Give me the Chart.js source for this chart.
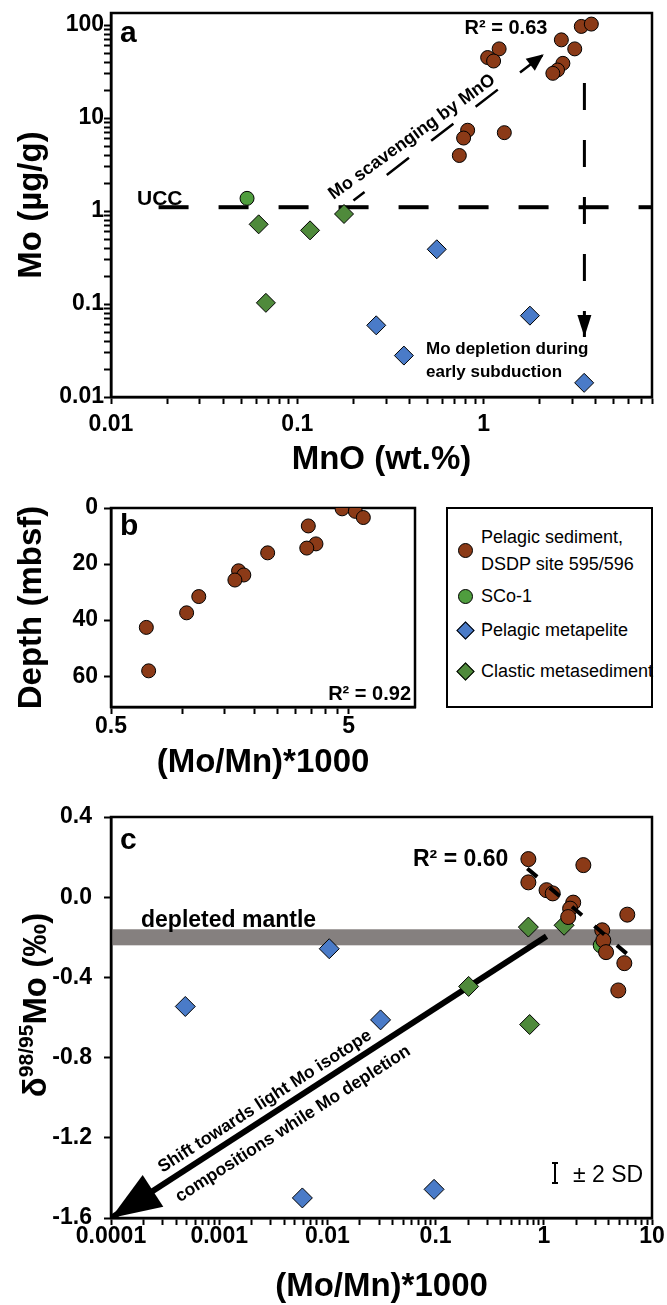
<!DOCTYPE html>
<html>
<head>
<meta charset="utf-8">
<title>Mo, MnO and Mo isotopes</title>
<script src="https://cdn.jsdelivr.net/npm/chart.js@4.4.1/dist/chart.umd.min.js"></script>
<style>
  html,body{margin:0;padding:0;background:#fff;}
  body{position:relative;width:667px;height:1305px;overflow:hidden;font-family:"Liberation Sans",Arial,sans-serif;}
  canvas{position:absolute;left:0;}
  #legend{position:absolute;left:446px;top:507px;width:207px;height:201px;border:2px solid #000;box-sizing:border-box;}
  .lg{position:absolute;left:33px;font-size:18px;line-height:27px;white-space:nowrap;color:#000;}
  .mk{position:absolute;box-sizing:border-box;border:1px solid #000;}
  .dot{width:15px;height:15px;border-radius:50%;}
  .dia{width:13px;height:13px;transform:rotate(45deg);}
</style>
</head>
<body>
<canvas id="chartA" width="667" height="490" style="top:0"></canvas>
<canvas id="chartB" width="430" height="310" style="top:480px"></canvas>
<canvas id="chartC" width="667" height="515" style="top:790px"></canvas>
<div id="legend"></div>
<script>
// ---- panel a : MnO (wt.%) vs Mo (µg/g)
const pelagicMnO = [3.34, 3.78, 2.61, 3.08, 2.66, 2.49, 2.35, 1.21, 1.05, 1.13, 0.82, 0.78, 0.74, 1.29];
const pelagicMo  = [96.8, 102.6, 69.4, 55.5, 38.8, 32.9, 30.3, 55.5, 44.8, 41.1, 7.4, 6.1, 3.96, 6.97];
const scoMnO = [0.0537];
const scoMo  = [1.37];
const metapeliteMnO = [0.56, 0.265, 0.373, 1.77, 3.46];
const metapeliteMo  = [0.388, 0.059, 0.0279, 0.075, 0.0142];
const clasticMnO = [0.062, 0.117, 0.178, 0.0678];
const clasticMo  = [0.72, 0.62, 0.93, 0.103];
const uccMnO = [0.018, 8], uccMo = [1.1, 1.1];
const depletionMnO = [3.47, 3.47], depletionMo = [23.8, 0.0442];
const scavengeMnO = [0.2, 2.1], scavengeMo = [1.3, 48.5];

// ---- panel b : (Mo/Mn)*1000 vs depth
const pelagicRatioB = [4.69, 5.33, 5.76, 3.38, 3.64, 3.33, 2.28, 1.72, 1.81, 1.66, 1.17, 1.04, 0.704, 0.72];
const pelagicDepth  = [0.3, 1.2, 3.4, 6.4, 12.8, 14.3, 16.0, 22.4, 23.9, 25.7, 31.6, 37.4, 42.6, 58.1];

// ---- panel c : (Mo/Mn)*1000 vs d98/95Mo
const pelagicRatioC = [0.72, 0.72, 1.06, 1.21, 2.32, 1.87, 1.75, 1.68, 5.91, 3.47, 3.55, 3.76, 5.55, 4.88];
const pelagicDelta  = [0.19, 0.074, 0.035, 0.019, 0.16, -0.027, -0.057, -0.099, -0.087, -0.165, -0.215, -0.274, -0.329, -0.465];
const scoRatioC = [3.36];
const scoDelta  = [-0.24];
const metapeliteRatioC = [0.0104, 0.000486, 0.031, 0.00587, 0.0968];
const metapeliteDelta  = [-0.257, -0.545, -0.612, -1.50, -1.457];
const clasticRatioC = [0.72, 1.54, 0.202, 0.74];
const clasticDelta  = [-0.149, -0.14, -0.445, -0.635];
const mantleBand = [-0.24, -0.16];
const trendRatio = [0.704, 5.83], trendDelta = [0.1435, -0.2815];
const shiftRatio = [1.06, 0.0001], shiftDelta = [-0.195, -1.6];

// ---- ticks
const depthTicks = [0, 20, 40, 60];
const deltaTicks = [-1.6, -1.2, -0.8, -0.4, 0, 0.4];
const ratioBTicks = [0.5, 1, 1.5, 2, 2.5, 3, 3.5, 4, 4.5, 5];
const ratioBLabels = [0.5, 5];

const brown = '#8b3a17', green = '#4f8a3b', greenDot = '#4f9d3e', blue = '#4a7bc8';
const FONT = '"Liberation Sans", Arial, sans-serif';
Chart.defaults.font.family = FONT;
Chart.defaults.color = '#000';

function pts(xs, ys){ return xs.map((x,i)=>({x, y:ys[i]})); }
function logTicks(min, max){
  const out=[];
  for(let e=Math.floor(Math.log10(min)); e<=Math.ceil(Math.log10(max)); e++){
    for(let k=1;k<10;k++){
      const v=+(k*Math.pow(10,e)).toPrecision(12);
      if(v>=min*0.999999 && v<=max*1.000001) out.push(v);
    }
  }
  return out;
}
function powLabel(v){
  const l=Math.log10(v);
  if(Math.abs(l-Math.round(l))>1e-6) return '';
  const e=Math.round(l);
  return e<0 ? v.toFixed(-e) : String(Math.round(v));
}
function markers(data, style, color, r){
  return {data, pointStyle:style, pointRadius:r, pointHoverRadius:r, backgroundColor:color, borderColor:'#000',
    pointBackgroundColor:color, pointBorderColor:'#000', pointBorderWidth:1, showLine:false, order:1};
}
function guide(data, width, dash, arrow, order, dashOffset){
  return {data, showLine:true, pointRadius:0, borderColor:'#000', borderWidth:width, borderDash:dash||[],
    borderDashOffset:dashOffset||0, borderCapStyle:'butt', fill:false, arrow, order:order==null?2:order};
}
function axis(o){
  return {
    type:o.type, position:o.pos, min:o.min, max:o.max, reverse:!!o.reverse,
    border:{display:true,color:'#000',width:2.5},
    grid:{display:true,drawOnChartArea:false,drawTicks:true,tickLength:7,tickWidth:2,tickColor:'#000',color:'#000'},
    ticks:{autoSkip:false,maxRotation:0,minRotation:0,padding:o.pad,color:'#000',
      font:{size:23,weight:'bold',lineHeight:1},callback:o.label},
    title:{display:true,text:o.title,color:'#000',font:{size:33,weight:'bold',lineHeight:1},
      padding:o.pos==='left'?{top:15.5,bottom:0}:{top:0,bottom:o.tpad}, display:!!o.title},
    afterBuildTicks(s){ s.ticks=o.ticks.map(v=>({value:v})); },
    afterFit(s){
      if(o.pos==='left') s.width=111; else s.height=o.h;
      s.paddingLeft=0; s.paddingRight=0; s.paddingTop=0; s.paddingBottom=0;
    }
  };
}

const framePlugin = {id:'frame', beforeDatasetsDraw(chart){
  const {ctx, chartArea:a}=chart;
  ctx.save(); ctx.strokeStyle='#000'; ctx.lineWidth=2.5;
  ctx.strokeRect(a.left,a.top,a.right-a.left,a.bottom-a.top); ctx.restore();
}};
const bandPlugin = {id:'band', beforeDatasetsDraw(chart,args,o){
  if(!o.range) return;
  const {ctx, chartArea:a}=chart, y=chart.scales.y;
  const t=y.getPixelForValue(o.range[1]), b=y.getPixelForValue(o.range[0]);
  ctx.save(); ctx.fillStyle=o.color; ctx.fillRect(a.left,t,a.right-a.left,b-t); ctx.restore();
}};
const arrowPlugin = {id:'arrows', afterDatasetsDraw(chart){
  const ctx=chart.ctx;
  chart.data.datasets.forEach((ds,i)=>{
    if(!ds.arrow) return;
    const el=chart.getDatasetMeta(i).data, p=el[el.length-2], q=el[el.length-1];
    const ang=Math.atan2(q.y-p.y,q.x-p.x), c=Math.cos(ang), s=Math.sin(ang);
    const {len,half}=ds.arrow;
    ctx.save(); ctx.fillStyle='#000'; ctx.beginPath();
    ctx.moveTo(q.x,q.y);
    ctx.lineTo(q.x-len*c+half*s, q.y-len*s-half*c);
    ctx.lineTo(q.x-len*c-half*s, q.y-len*s+half*c);
    ctx.closePath(); ctx.fill(); ctx.restore();
  });
}};
const notesPlugin = {id:'notes', afterDatasetsDraw(chart,args,o){
  const ctx=chart.ctx;
  (o.items||[]).forEach(n=>{
    ctx.save(); ctx.fillStyle='#000'; ctx.font=n.f+' '+FONT;
    ctx.textAlign=n.align||'left'; ctx.textBaseline=n.base||'alphabetic';
    ctx.translate(n.x,n.y); if(n.rot) ctx.rotate(n.rot*Math.PI/180);
    ctx.fillText(n.t,0,0); ctx.restore();
  });
  (o.bars||[]).forEach(b=>{
    ctx.save(); ctx.strokeStyle='#000'; ctx.lineWidth=2; ctx.beginPath();
    ctx.moveTo(b.x,b.y0); ctx.lineTo(b.x,b.y1);
    ctx.moveTo(b.x-3,b.y0); ctx.lineTo(b.x+3,b.y0);
    ctx.moveTo(b.x-3,b.y1); ctx.lineTo(b.x+3,b.y1);
    ctx.stroke(); ctx.restore();
  });
}};
const richTitlePlugin = {id:'richTitle', afterDraw(chart,args,o){
  if(!o.parts) return;
  const ctx=chart.ctx; ctx.save(); ctx.fillStyle='#000';
  ctx.translate(o.x,o.y); ctx.rotate(-Math.PI/2);
  ctx.textAlign='left'; ctx.textBaseline='alphabetic';
  let w=0; o.parts.forEach(p=>{ctx.font=p.f+' '+FONT; w+=ctx.measureText(p.t).width;});
  let x=-w/2;
  o.parts.forEach(p=>{ctx.font=p.f+' '+FONT; ctx.fillText(p.t,x,o.base+p.dy); x+=ctx.measureText(p.t).width;});
  ctx.restore();
}};
const PLUGINS=[bandPlugin, framePlugin, arrowPlugin, notesPlugin, richTitlePlugin];
function baseOptions(padding, scales, plugins){
  return {responsive:false, animation:false, events:[], layout:{padding}, scales,
    plugins:Object.assign({legend:{display:false}, tooltip:{enabled:false}}, plugins)};
}

// ---- chart a
new Chart(document.getElementById('chartA'), {
  type:'scatter',
  data:{datasets:[
    markers(pts(pelagicMnO,pelagicMo),'circle',brown,7),
    markers(pts(scoMnO,scoMo),'circle',greenDot,7),
    markers(pts(metapeliteMnO,metapeliteMo),'rectRot',blue,9.5),
    markers(pts(clasticMnO,clasticMo),'rectRot',green,9.5),
    guide(pts(uccMnO,uccMo),4,[30,30]),
    guide(pts(depletionMnO,depletionMo),3,[27,30],{len:22,half:7}),
    guide(pts(scavengeMnO,scavengeMo),2.5,[28,28],{len:17,half:7.5},2,14)
  ]},
  options:baseOptions({top:13,right:15,left:0,bottom:0},{
    x:axis({type:'logarithmic',pos:'bottom',min:0.01,max:8,ticks:logTicks(0.01,8),label:powLabel,pad:9.5,h:93,title:'MnO (wt.%)',tpad:13.5}),
    y:axis({type:'logarithmic',pos:'left',min:0.01,max:135,ticks:logTicks(0.01,135),label:powLabel,pad:0,title:'Mo (µg/g)'})
  },{notes:{items:[
    {t:'a',x:120,y:42,f:'bold 30px'},
    {t:'R² = 0.63',x:506,y:34,f:'bold 20px',align:'center'},
    {t:'UCC',x:137,y:205,f:'bold 21px'},
    {t:'Mo depletion during',x:426,y:354,f:'bold 17px'},
    {t:'early subduction',x:426,y:377,f:'bold 17px'},
    {t:'Mo scavenging by MnO',x:412,y:137,f:'bold 18px',align:'center',base:'middle',rot:-36}
  ]}}),
  plugins:PLUGINS
});

// ---- chart b
new Chart(document.getElementById('chartB'), {
  type:'scatter',
  data:{datasets:[ markers(pts(pelagicRatioB,pelagicDepth),'circle',brown,7) ]},
  options:baseOptions({top:28,right:15,left:0,bottom:0},{
    x:axis({type:'logarithmic',pos:'bottom',min:0.5,max:9.5,ticks:ratioBTicks,
      label:v=>ratioBLabels.includes(v)?String(v):'',pad:1.5,h:83,title:'(Mo/Mn)*1000',tpad:10.5}),
    y:axis({type:'linear',pos:'left',min:0,max:71,reverse:true,ticks:depthTicks,label:v=>String(v),pad:6,title:'Depth (mbsf)'})
  },{notes:{items:[
    {t:'b',x:120,y:55,f:'bold 30px'},
    {t:'R² = 0.92',x:411,y:220,f:'bold 20px',align:'right'}
  ]}}),
  plugins:PLUGINS
});

// ---- chart c
new Chart(document.getElementById('chartC'), {
  type:'scatter',
  data:{datasets:[
    guide(pts(trendRatio,trendDelta),4,[13,16.5],null,0),
    markers(pts(pelagicRatioC,pelagicDelta),'circle',brown,7.5),
    markers(pts(scoRatioC,scoDelta),'circle',greenDot,7.5),
    markers(pts(metapeliteRatioC,metapeliteDelta),'rectRot',blue,10),
    markers(pts(clasticRatioC,clasticDelta),'rectRot',green,10),
    guide(pts(shiftRatio,shiftDelta),6,[],{len:50,half:19},3)
  ]},
  options:baseOptions({top:27,right:15,left:0,bottom:0},{
    x:axis({type:'logarithmic',pos:'bottom',min:0.0001,max:10,ticks:logTicks(0.0001,10),label:powLabel,pad:0,h:87,title:'(Mo/Mn)*1000',tpad:1.5}),
    y:axis({type:'linear',pos:'left',min:-1.6,max:0.4,ticks:deltaTicks,label:v=>v.toFixed(1),pad:12,title:''})
  },{
    band:{range:mantleBand,color:'#85807f'},
    notes:{items:[
      {t:'c',x:120,y:59,f:'bold 30px'},
      {t:'R² = 0.60',x:413,y:76,f:'bold 23px'},
      {t:'depleted mantle',x:141,y:137,f:'bold 23px'},
      {t:'± 2 SD',x:573,y:392,f:'23px'},
      {t:'Shift towards light Mo isotope',x:265,y:311.5,f:'bold 17.5px',align:'center',base:'middle',rot:-32.7},
      {t:'compositions while Mo depletion',x:293,y:334,f:'bold 17.5px',align:'center',base:'middle',rot:-32.7}
    ], bars:[{x:555,y0:373,y1:393}]},
    richTitle:{x:34,y:215,base:12,parts:[
      {t:'δ',f:'bold 33px',dy:0},{t:'98/95',f:'bold 21px',dy:-13},{t:'Mo (‰)',f:'bold 33px',dy:0}
    ]}
  }),
  plugins:PLUGINS
});

// ---- legend
const legendItems = [
  {text:['Pelagic sediment,','DSDP site 595/596'], shape:'dot', color:brown},
  {text:['SCo-1'], shape:'dot', color:greenDot},
  {text:['Pelagic metapelite'], shape:'dia', color:blue},
  {text:['Clastic metasediment'], shape:'dia', color:green}
];
const legendRows = [41.7, 87.7, 121.7, 162];
const lg=document.getElementById('legend');
legendItems.forEach((it,i)=>{
  const cy=legendRows[i];
  const m=document.createElement('div');
  const sz=it.shape==='dot'?15:13;
  m.className='mk '+it.shape; m.style.background=it.color;
  m.style.left=(17-sz/2)+'px'; m.style.top=(cy-sz/2)+'px';
  lg.appendChild(m);
  const t=document.createElement('div');
  t.className='lg'; t.style.top=(cy-it.text.length*27/2)+'px';
  t.innerHTML=it.text.join('<br>');
  lg.appendChild(t);
});
</script>
</body>
</html>
